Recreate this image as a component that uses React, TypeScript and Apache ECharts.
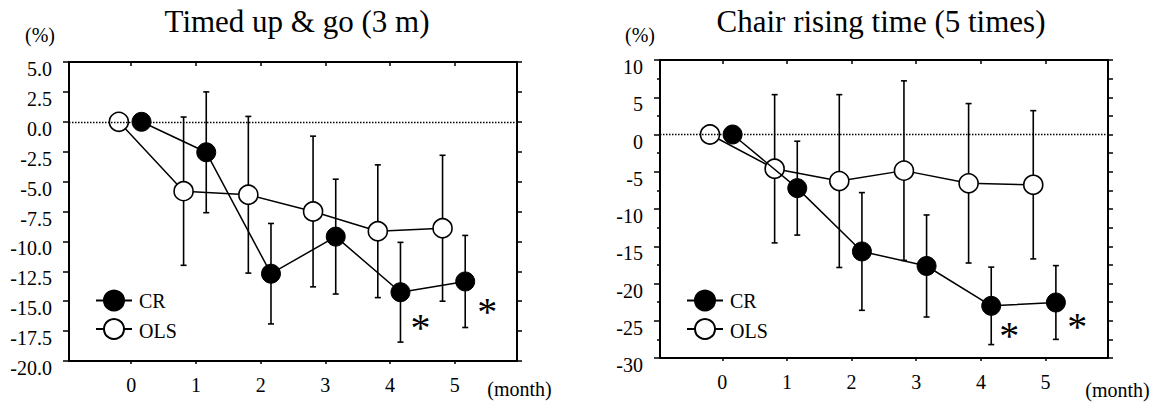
import React, { useEffect, useRef } from "react";
import * as echarts from "echarts";

// ---- data ----
const months = [0, 1, 2, 3, 4, 5];

// Timed up & go (3 m), % change
const tugCR = [0, -2.55, -12.7, -9.6, -14.25, -13.35];
const tugCRsd = [0, 5.05, 4.2, 4.8, 4.17, 3.85];
const tugOLS = [0, -5.8, -6.1, -7.5, -9.15, -8.9];
const tugOLSsd = [0, 6.2, 6.55, 6.3, 5.55, 6.1];

// Chair rising time (5 times), % change
const chairCR = [0, -7.2, -15.7, -17.65, -23.0, -22.55];
const chairCRsd = [0, 6.3, 7.9, 6.85, 5.2, 4.95];
const chairOLS = [0, -4.6, -6.25, -4.85, -6.55, -6.75];
const chairOLSsd = [0, 9.95, 11.6, 12.05, 10.7, 9.95];

// tick labels
const tugYTicks = [5, 2.5, 0, -2.5, -5, -7.5, -10, -12.5, -15, -17.5, -20];
const tugYLabels = ["5.0", "2.5", "0.0", "-2.5", "-5.0", "-7.5", "-10.0", "-12.5", "-15.0", "-17.5", "-20.0"];
const chairYTicks = [10, 5, 0, -5, -10, -15, -20, -25, -30];
const chairYLabels = ["10", "5", "0", "-5", "-10", "-15", "-20", "-25", "-30"];
const monthLabels = ["0", "1", "2", "3", "4", "5"];

// significance markers (x in months, y in %)
const tugSig = [
  [4.47, -16.8],
  [5.5, -15.45],
];
const chairSig = [
  [4.44, -26.4],
  [5.49, -25.2],
];

const titles = ["Timed up & go (3 m)", "Chair rising time (5 times)"];
const legendNames = ["CR", "OLS"];

// ---- style ----
const FONT = "Liberation Serif, Times New Roman, serif";
const BLACK = "#000";
const OLS_DX = -0.19;
const CR_DX = 0.16;

const X_RANGE = [
  [-0.96, 5.96],
  [-0.963, 5.966],
];
const Y_RANGE = [
  [-20, 5],
  [-30, 10],
];

function errRender(params: any, api: any) {
  const x = api.value(0);
  const m = api.value(1);
  const s = api.value(2);
  if (!s) return { type: "group", children: [] };
  const top = api.coord([x, m + s]);
  const bot = api.coord([x, m - s]);
  const cap = 3;
  const st = { stroke: BLACK, lineWidth: 1.6 };
  return {
    type: "group",
    children: [
      { type: "line", shape: { x1: top[0], y1: top[1], x2: bot[0], y2: bot[1] }, style: st },
      { type: "line", shape: { x1: top[0] - cap, y1: top[1], x2: top[0] + cap, y2: top[1] }, style: st },
      { type: "line", shape: { x1: bot[0] - cap, y1: bot[1], x2: bot[0] + cap, y2: bot[1] }, style: st },
    ],
  };
}

// texts placed through the axes' scales
function textSeries(
  g: number,
  name: string,
  points: number[][],
  texts: string[],
  dx: number,
  dy: number,
  align: string,
  size: number
) {
  return {
    type: "custom",
    name,
    xAxisIndex: g * 2,
    yAxisIndex: g * 2,
    silent: true,
    clip: false,
    z: 6,
    encode: { x: 0, y: 1 },
    data: points,
    renderItem: (params: any, api: any) => {
      const p = api.coord([api.value(0), api.value(1)]);
      return {
        type: "text",
        x: p[0] + dx,
        y: p[1] + dy,
        style: {
          text: texts[params.dataIndex],
          fontSize: size,
          fontFamily: FONT,
          fill: BLACK,
          align,
          verticalAlign: "middle",
        },
      };
    },
  };
}

function seriesFor(
  g: number,
  cr: number[],
  crSd: number[],
  ols: number[],
  olsSd: number[],
  sig: number[][],
  yTicks: number[],
  yLabels: string[]
) {
  const ax = { xAxisIndex: g * 2, yAxisIndex: g * 2 };
  const [xmin] = X_RANGE[g];
  const [ymin] = Y_RANGE[g];
  return [
    {
      type: "custom",
      name: "errOLS" + g,
      ...ax,
      renderItem: errRender,
      encode: { x: 0, y: 1 },
      data: months.map((m, i) => [m + OLS_DX, ols[i], olsSd[i]]),
      z: 1,
      silent: true,
    },
    {
      type: "custom",
      name: "errCR" + g,
      ...ax,
      renderItem: errRender,
      encode: { x: 0, y: 1 },
      data: months.map((m, i) => [m + CR_DX, cr[i], crSd[i]]),
      z: 1,
      silent: true,
    },
    {
      type: "line",
      name: "OLS",
      ...ax,
      data: months.map((m, i) => [m + OLS_DX, ols[i]]),
      symbol: "circle",
      symbolSize: 19,
      color: BLACK,
      lineStyle: { color: BLACK, width: 1.5 },
      itemStyle: { color: "#fff", borderColor: BLACK, borderWidth: 1.6 },
      emphasis: { disabled: true },
      z: 3,
      markLine: {
        silent: true,
        symbol: ["none", "none"],
        label: { show: false },
        lineStyle: { color: BLACK, type: [1.5, 1.5], width: 1.3 },
        data: [{ yAxis: 0 }],
      },
    },
    {
      type: "line",
      name: "CR",
      ...ax,
      data: months.map((m, i) => [m + CR_DX, cr[i]]),
      symbol: "circle",
      symbolSize: 19,
      color: BLACK,
      lineStyle: { color: BLACK, width: 1.5 },
      itemStyle: { color: BLACK, borderColor: BLACK, borderWidth: 1 },
      emphasis: { disabled: true },
      z: 4,
    },
    textSeries(g, "sig" + g, sig, sig.map(() => "*"), 0, 4.5, "center", 40),
    textSeries(g, "ylab" + g, yTicks.map((v) => [xmin, v]), yLabels, -17, 7, "right", 20),
    textSeries(g, "xlab" + g, months.map((m) => [m, ymin]), monthLabels, 0, 24, "center", 20),
  ];
}

function xAxesFor(g: number) {
  const [min, max] = X_RANGE[g];
  const line = { show: true, onZero: false, lineStyle: { color: BLACK, width: 2 } };
  return [
    {
      gridIndex: g,
      type: "value",
      position: "bottom",
      min,
      max,
      axisLine: line,
      axisTick: { show: true, customValues: months, length: 3, lineStyle: { color: BLACK, width: 1.5 } },
      axisLabel: { show: false, customValues: months },
      splitLine: { show: false },
    },
    {
      gridIndex: g,
      type: "value",
      position: "top",
      min,
      max,
      axisLine: line,
      axisTick: { show: true, inside: true, customValues: months, length: 4, lineStyle: { color: BLACK, width: 1.5 } },
      axisLabel: { show: false, customValues: months },
      splitLine: { show: false },
    },
  ];
}

function yAxesFor(g: number, interval: number, minor: boolean) {
  const [min, max] = Y_RANGE[g];
  const line = { show: true, onZero: false, lineStyle: { color: BLACK, width: 2 } };
  return [
    {
      gridIndex: g,
      type: "value",
      position: "left",
      min,
      max,
      interval,
      axisLine: line,
      axisTick: { show: true, length: 6, lineStyle: { color: BLACK, width: 1.5 } },
      minorTick: { show: minor, splitNumber: 2, length: 3, lineStyle: { color: BLACK, width: 1.5 } },
      axisLabel: { show: false },
      splitLine: { show: false },
      minorSplitLine: { show: false },
    },
    {
      gridIndex: g,
      type: "value",
      position: "right",
      min,
      max,
      interval: 2.5,
      axisLine: line,
      axisTick: { show: true, length: 5, lineStyle: { color: BLACK, width: 1.5 } },
      axisLabel: { show: false },
      splitLine: { show: false },
    },
  ];
}

function legendAt(left: number) {
  return {
    data: legendNames,
    orient: "vertical",
    left,
    top: 283,
    padding: 5,
    itemWidth: 36,
    itemHeight: 25,
    itemGap: 5,
    selectedMode: false,
    formatter: () => "",
  };
}

function textEl(text: string, x: number, y: number, size: number, align = "center") {
  return {
    type: "text",
    x,
    y,
    silent: true,
    style: {
      text,
      fontSize: size,
      fontFamily: FONT,
      fill: BLACK,
      align,
      verticalAlign: "middle",
    },
  };
}

export default function App() {
  const ref = useRef<HTMLDivElement>(null);
  useEffect(() => {
    if (!ref.current) return;
    const chart = echarts.init(ref.current, undefined, { renderer: "svg" });
    const option: any = {
      animation: false,
      backgroundColor: "#fff",
      textStyle: { fontFamily: FONT },
      grid: [
        { left: 69, top: 62, width: 448, height: 299, containLabel: false },
        { left: 660, top: 60, width: 448, height: 298, containLabel: false },
      ],
      xAxis: [...xAxesFor(0), ...xAxesFor(1)],
      yAxis: [...yAxesFor(0, 2.5, false), ...yAxesFor(1, 5, true)],
      legend: [legendAt(90), legendAt(681)],
      graphic: [
        textEl(titles[0], 297, 21, 31),
        textEl(titles[1], 881, 21, 31),
        textEl("(%)", 40, 35, 20),
        textEl("(%)", 640, 35, 20),
        textEl("(month)", 519.5, 389, 20),
        textEl("(month)", 1117.5, 390, 20),
        textEl(legendNames[0], 139, 300.5, 20, "left"),
        textEl(legendNames[1], 139, 330.5, 20, "left"),
        textEl(legendNames[0], 730, 300.5, 20, "left"),
        textEl(legendNames[1], 730, 330.5, 20, "left"),
      ],
      series: [
        ...seriesFor(0, tugCR, tugCRsd, tugOLS, tugOLSsd, tugSig, tugYTicks, tugYLabels),
        ...seriesFor(1, chairCR, chairCRsd, chairOLS, chairOLSsd, chairSig, chairYTicks, chairYLabels),
      ],
    };
    chart.setOption(option);
    return () => chart.dispose();
  }, []);
  return (
    <div
      ref={ref}
      style={{ position: "absolute", left: 0, top: 0, width: 1156, height: 402, background: "#fff" }}
    />
  );
}
